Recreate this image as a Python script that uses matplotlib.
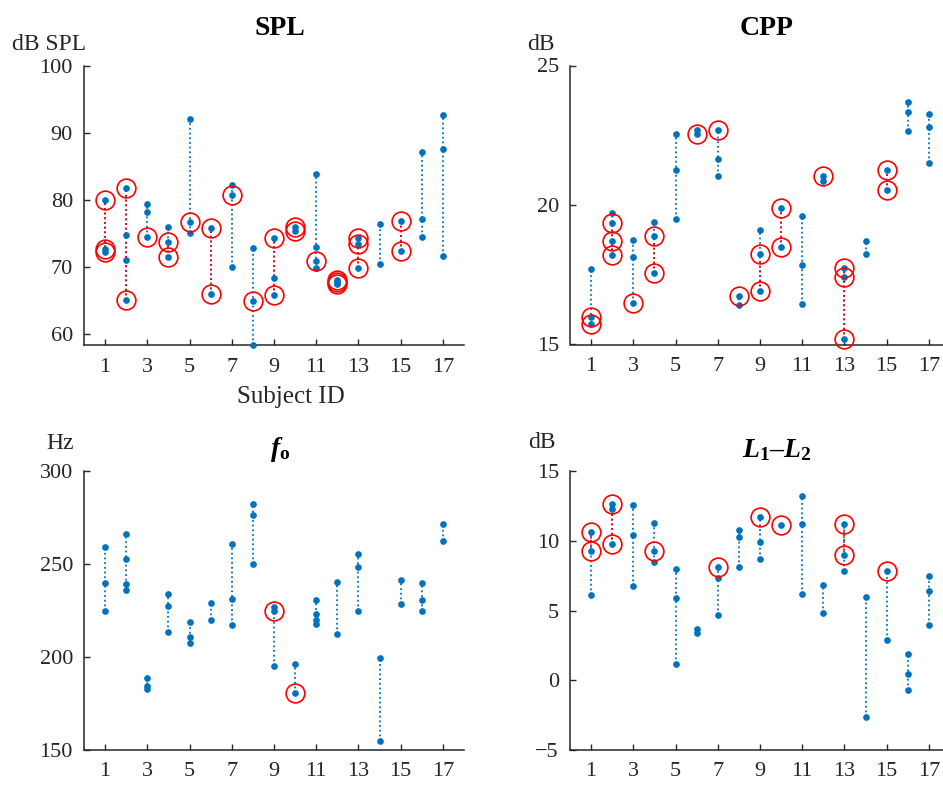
import matplotlib.pyplot as plt

plt.rcParams['font.family'] = 'Liberation Serif'
plt.rcParams['mathtext.fontset'] = 'custom'
plt.rcParams['mathtext.rm'] = 'Liberation Serif'
plt.rcParams['mathtext.it'] = 'Liberation Serif:italic'
plt.rcParams['mathtext.bf'] = 'Liberation Serif:bold'
plt.rcParams['mathtext.bfit'] = 'Liberation Serif:italic:bold'

subjects = list(range(1, 18))
xticks = [1, 3, 5, 7, 9, 11, 13, 15, 17]

# values per subject (all sessions) and the circled ones
spl_vals = [[80.0, 72.7, 72.2], [81.7, 74.8, 71.1, 65.1], [79.4, 78.2, 74.5], [75.9, 73.7, 71.5],
            [92.0, 76.7, 75.0], [75.8, 66.0], [82.2, 80.7, 70.0], [72.8, 65.0, 58.4],
            [74.4, 68.4, 65.9], [75.9, 75.4], [83.8, 73.0, 70.9, 69.8], [68.1, 67.8, 67.5],
            [74.4, 73.4, 69.8], [76.4, 70.5], [76.8, 72.4], [87.1, 77.1, 74.5], [92.7, 87.6, 71.6]]
spl_circ = [[80.0, 72.7, 72.2], [81.7, 65.1], [74.5], [73.7, 71.5],
            [76.7], [75.8, 66.0], [80.7], [65.0],
            [74.4, 65.9], [75.9, 75.4], [70.9], [68.1, 67.8, 67.5],
            [74.4, 73.4, 69.8], [], [76.8, 72.4], [], []]

cpp_vals = [[17.7, 16.0, 15.75], [19.7, 19.35, 18.7, 18.2], [18.75, 18.15, 16.5], [19.4, 18.9, 17.55],
            [22.55, 21.25, 19.5], [22.7, 22.55], [22.7, 21.65, 21.05], [16.75, 16.4],
            [19.1, 18.25, 16.9], [19.9, 18.5], [19.6, 17.85, 16.45], [21.05, 20.85],
            [17.73, 17.43, 15.2], [18.7, 18.25], [21.25, 20.55], [23.7, 23.35, 22.65], [23.25, 22.8, 21.5]]
cpp_circ = [[16.0, 15.75], [19.35, 18.7, 18.2], [16.5], [18.9, 17.55],
            [], [22.55], [22.7], [16.75],
            [18.25, 16.9], [19.9, 18.5], [], [21.05],
            [17.73, 17.43, 15.2], [], [21.25, 20.55], [], []]

f0_vals = [[259, 240, 225], [266, 252.5, 239, 236], [188.5, 184.5, 183], [234, 227.5, 213.5],
           [219, 210.5, 207.5], [229, 220], [261, 231, 217], [282, 276.5, 250],
           [227, 225, 195], [196.5, 180.5], [230.5, 223, 220, 217.5], [240.5, 212.5],
           [255.5, 248.5, 224.5], [199.5, 155], [241.5, 228.5], [240, 230.5, 225], [271.5, 262.5]]
f0_circ = [[], [], [], [], [], [], [], [], [225], [180.5], [], [], [], [], [], [], []]

l12_vals = [[10.6, 9.3, 6.1], [12.6, 12.3, 9.8], [12.55, 10.4, 6.75], [11.3, 9.3, 8.5],
            [8.0, 5.9, 1.2], [3.7, 3.4], [8.1, 7.35, 4.7], [10.75, 10.25, 8.1],
            [11.7, 9.9, 8.7], [11.15], [13.2, 11.2, 6.2], [6.8, 4.8],
            [11.2, 8.95, 7.8], [5.95, -2.6], [7.8, 2.85], [1.9, 0.45, -0.7], [7.45, 6.4, 3.95]]
l12_circ = [[10.6, 9.3], [12.6, 9.8], [], [9.3], [], [], [8.1], [],
            [11.7], [11.15], [], [], [11.2, 8.95], [], [7.8], [], []]

blue = '#0072BD'
axcol = '#262626'
W, H = 943, 785

fig = plt.figure(figsize=(9.43, 7.85), dpi=100)


def px_axes(left, top, right, bottom):
    return fig.add_axes([left / W, 1 - bottom / H, (right - left) / W, (bottom - top) / H])


def draw(ax, vals, circ, ylim, yticks):
    dot = (0, (1, 1.6))
    for x, v, c in zip(subjects, vals, circ):
        ax.plot([x, x], [min(v), max(v)], ls=dot, lw=1.3, color=blue, zorder=1)
        if len(c) > 1:
            ax.plot([x, x], [min(c), max(c)], ls=dot, lw=1.3, color='red', zorder=2)
        ax.plot([x] * len(v), v, 'o', ms=3.8, color=blue, zorder=3, clip_on=False)
        if c:
            ax.plot([x] * len(c), c, 'o', ms=13.5, mfc='none', mec='red', mew=1.2,
                    zorder=4, clip_on=False)
    ax.set_xlim(0, 18)
    ax.set_ylim(*ylim)
    ax.set_xticks(xticks)
    ax.set_yticks(yticks)
    for s in ['top', 'right']:
        ax.spines[s].set_visible(False)
    for s in ['left', 'bottom']:
        ax.spines[s].set_color(axcol)
        ax.spines[s].set_linewidth(1.1)
    ax.tick_params(direction='in', length=4, width=1, colors=axcol, labelsize=16)
    ax.tick_params(axis='x', pad=9)
    ax.tick_params(axis='y', pad=8)


ax1 = px_axes(84, 65.5, 464, 345)
draw(ax1, spl_vals, spl_circ, (58.4, 100), [60, 70, 80, 90, 100])
ax2 = px_axes(570, 65.5, 950, 344.5)
draw(ax2, cpp_vals, cpp_circ, (15, 25), [15, 20, 25])
ax3 = px_axes(84, 471, 464, 750)
draw(ax3, f0_vals, f0_circ, (150, 300), [150, 200, 250, 300])
ax4 = px_axes(570, 471, 950, 750)
draw(ax4, l12_vals, l12_circ, (-5, 15), [-5, 0, 5, 10, 15])


def ftext(x, y, s, **kw):
    fig.text(x / W, 1 - y / H, s, **kw)


ftext(280, 35, 'SPL', fontsize=20, fontweight='bold', ha='center', va='baseline')
ftext(767, 35, 'CPP', fontsize=20, fontweight='bold', ha='center', va='baseline')
ftext(280, 456, r'$\mathbfit{f}_\mathbf{o}$', fontsize=20, ha='center', va='baseline')
ftext(777, 457, r'$\mathbfit{L}_\mathbf{1}$' + '\u2013' + r'$\mathbfit{L}_\mathbf{2}$',
      fontsize=20, fontweight='bold', ha='center', va='baseline')

ftext(49, 50, 'dB SPL', fontsize=17, color=axcol, ha='center', va='baseline')
ftext(541, 50, 'dB', fontsize=17, color=axcol, ha='center', va='baseline')
ftext(60, 449, 'Hz', fontsize=17, color=axcol, ha='center', va='baseline')
ftext(542, 448, 'dB', fontsize=17, color=axcol, ha='center', va='baseline')
ftext(291, 403, 'Subject ID', fontsize=18, color=axcol, ha='center', va='baseline')

fig.savefig('out.png', dpi=100)
